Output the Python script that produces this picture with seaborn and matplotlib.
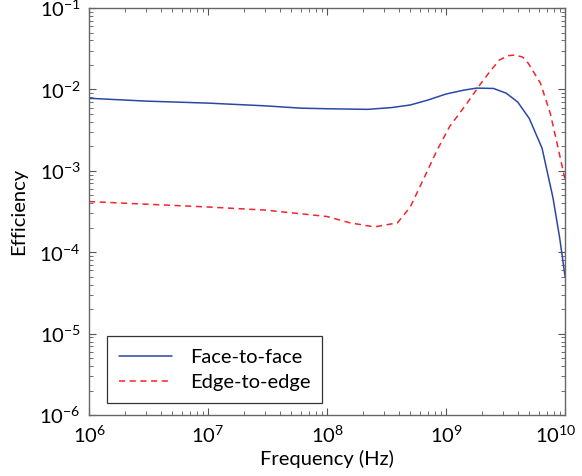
import numpy as np
import pandas as pd
import matplotlib
matplotlib.use("Agg")
import matplotlib.pyplot as plt
import matplotlib.transforms as mtransforms
import seaborn as sns

sns.set_style("ticks")
plt.rcParams['font.family'] = ['Lato', 'DejaVu Sans']
plt.rcParams['text.color'] = 'black'
plt.rcParams['axes.labelcolor'] = 'black'

# valores
freq_face = [1e6, 3e6, 1e7, 3e7, 6e7, 1e8, 2.2e8, 3.5e8, 5e8, 7e8, 1e9, 1.4e9, 1.8e9,
             2.5e9, 3.2e9, 4e9, 5e9, 6.4e9, 7.9e9, 9e9, 1e10]
eff_face = [7.8e-3, 7.2e-3, 6.8e-3, 6.3e-3, 5.9e-3, 5.8e-3, 5.7e-3, 6.0e-3, 6.45e-3, 7.4e-3,
            8.8e-3, 9.8e-3, 1.04e-2, 1.03e-2, 9.0e-3, 7.0e-3, 4.4e-3, 1.9e-3, 4.7e-4,
            1.5e-4, 5e-5]

freq_edge = [1e6, 3e6, 1e7, 3e7, 6.3e7, 1e8, 1.56e8, 2.5e8, 3.9e8, 5e8, 6.4e8, 8.4e8, 1.07e9,
             1.5e9, 1.93e9, 2.36e9, 2.8e9, 3.3e9, 3.8e9, 4.4e9, 4.9e9, 6.2e9, 7.5e9, 8.7e9,
             1e10]
eff_edge = [4.2e-4, 3.9e-4, 3.6e-4, 3.3e-4, 2.95e-4, 2.75e-4, 2.3e-4, 2.05e-4, 2.3e-4,
            3.6e-4, 7.7e-4, 1.8e-3, 3.5e-3, 6.8e-3, 1.15e-2, 1.7e-2, 2.3e-2, 2.6e-2, 2.65e-2,
            2.5e-2, 2.1e-2, 1.2e-2, 5.1e-3, 1.95e-3, 7.8e-4]

face = pd.DataFrame({'freq': freq_face, 'eff': eff_face})
edge = pd.DataFrame({'freq': freq_edge, 'eff': eff_edge})

fig = plt.figure(figsize=(5.82, 4.76), dpi=100)
ax = fig.add_axes([0.153, 0.128, 0.818, 0.855])

sns.lineplot(data=face, x='freq', y='eff', ax=ax, color='#2b47a6', lw=1.1,
             label='Face-to-face')
sns.lineplot(data=edge, x='freq', y='eff', ax=ax, color='#f2242c', lw=1.1,
             linestyle=(0, (4, 3)), label='Edge-to-edge')

ax.set_xscale('log')
ax.set_yscale('log')
ax.set_xlim(1e6, 1e10)
ax.set_ylim(1e-6, 1e-1)
ax.set_xlabel('Frequency (Hz)', fontsize=14.5, labelpad=3)
ax.set_ylabel('Efficiency', fontsize=14.5, labelpad=9)
ax.tick_params(which='both', direction='in', top=True, right=True, labelsize=14.5,
               color='#555555', labelcolor='black')
ax.tick_params(which='major', length=5, pad=7)
ax.tick_params(which='minor', length=3)
ax.tick_params(axis='y', which='major', pad=6)
for s in ax.spines.values():
    s.set_color('#666666')
    s.set_linewidth(1.0)

leg = ax.legend(loc='lower left', bbox_to_anchor=(0.038, 0.03), borderaxespad=0,
                fontsize=14.5, fancybox=False, framealpha=1, edgecolor='#333333',
                handlelength=2.6, borderpad=0.6, labelspacing=0.4, handletextpad=0.9)
leg.get_frame().set_linewidth(0.9)

# la etiqueta 10^10 se corre un poco a la izquierda para que quepa
fig.canvas.draw()
for t in ax.xaxis.get_major_ticks():
    if abs(t.get_loc() - 1e10) < 1:
        t.label1.set_transform(t.label1.get_transform() +
                               mtransforms.ScaledTranslation(-9 / 100, 0, fig.dpi_scale_trans))

fig.savefig('out.png', dpi=100)
